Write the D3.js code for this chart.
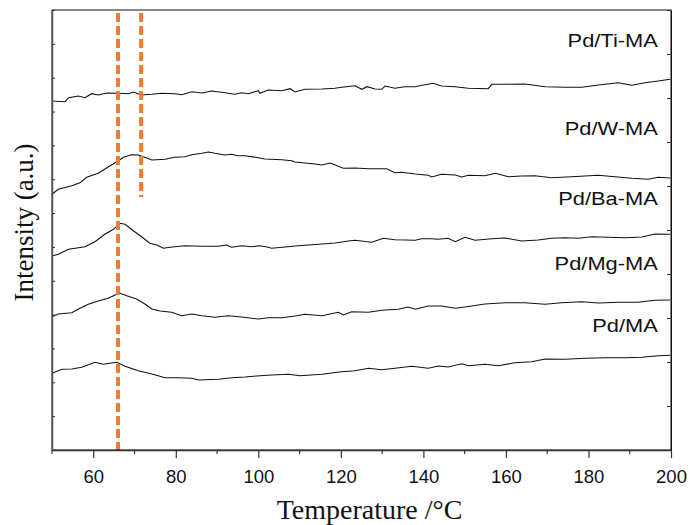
<!DOCTYPE html>
<html>
<head>
<meta charset="utf-8">
<script src="https://cdn.jsdelivr.net/npm/d3@7/dist/d3.min.js"></script>
<style>
body{margin:0;background:#fff;}
svg{display:block;}
</style>
</head>
<body>
<svg width="690" height="525"></svg>
<script>
// temperature (°C), intensity (a.u.)
var tiMA = [[50,349],[53.2,348.3],[54.0,352.3],[56.4,354],[58.0,352.3],[59.6,356.3],[61.2,355],[63.3,357],[66.1,356.7],[68.5,356.3],[69.7,358],[71.7,355],[74.2,355.7],[76.6,356.7],[79.8,356.3],[81.4,355.3],[83.9,358.3],[86.3,357],[88.7,359],[91.1,357.7],[94.3,355.7],[96.0,357.3],[97.6,356.3],[100.0,359.3],[100.4,356.7],[102.4,360],[105.7,359.3],[107.7,361.3],[108.9,358],[111.3,360.7],[115.4,361],[118.6,361.7],[120.2,362.7],[123.4,364.3],[125.1,360.7],[126.3,363.3],[128.3,361],[129.9,360.7],[130.7,364],[133.1,361.7],[135.5,363.3],[138.0,363.3],[139.6,364.7],[142.4,366.7],[144.4,364],[147.7,363.3],[150.9,361.7],[155.7,361.3],[156.6,365.7],[159.8,365.7],[164.6,366],[169.5,363.3],[174.3,362.7],[178.4,362.7],[182.4,365],[187.2,367.3],[190.5,364.7],[193.7,367.3],[196.9,369],[199.8,370.7]];
var wMA = [[50,255.7],[51.5,260.7],[54.8,264.3],[56.8,267.3],[58.4,272.7],[61.2,276.7],[63.3,282.3],[65.7,288.3],[67.3,292.7],[69.3,295.3],[70.9,295],[72.5,292.7],[74.2,290],[77.4,290.7],[79.8,292.7],[82.2,293.3],[83.9,295.3],[86.3,296.7],[87.9,298],[89.5,296.7],[91.9,295],[93.5,295.7],[95.1,294.3],[96.8,294.3],[100.0,292.3],[101.6,291],[105.7,290.3],[108.1,289.3],[108.9,288],[113.7,286],[115.4,285],[117.4,287],[120.6,281.7],[123.4,282],[126.7,281.3],[131.1,281.3],[133.1,277.3],[134.7,277.7],[138.0,276],[141.2,274.7],[142.0,273],[144.4,275.7],[147.7,275],[149.3,273],[150.9,274.7],[154.9,274.3],[157.4,276.7],[160.6,273.3],[163.8,274],[167.0,274.3],[171.1,272.3],[175.9,273.3],[182.4,274.7],[186.4,273.3],[190.5,271.7],[194.5,270.7],[196.9,272.7],[199.8,272]];
var baMA = [[50,194],[51.5,195.7],[54.0,200.7],[55.6,201.7],[58.0,203.3],[60.4,208.3],[62.8,215.7],[64.9,220.7],[66.5,226.7],[67.7,225.7],[69.7,219.3],[71.7,213.3],[73.7,206.7],[75.4,205],[77.0,201.7],[78.6,202.7],[82.2,204.3],[86.3,203.7],[90.3,203.7],[92.3,205],[93.5,202.7],[96.0,204.3],[98.4,203.3],[100.4,204.3],[102.4,202.7],[103.2,201.7],[106.5,203],[109.7,204.3],[115.4,206],[118.6,207],[121.8,209],[123.4,209.7],[127.5,207.7],[130.3,211.7],[133.1,210.3],[138.0,209.7],[139.6,211.3],[142.0,211.3],[143.6,210.7],[146.0,211.7],[147.7,208.3],[150.1,212.7],[152.5,209.7],[156.6,211.3],[159.8,212],[163.8,209],[167.8,210],[171.1,211.7],[174.3,212.3],[177.5,211.7],[180.8,213.3],[184.8,212.7],[188.9,212.3],[192.9,213],[196.1,216],[199.8,215.7]];
var mgMA = [[50,133.3],[51.5,136],[54.8,137.3],[56.4,141],[58.8,145.7],[61.2,149],[63.6,151.7],[65.3,155],[66.5,156.7],[68.1,154.3],[70.5,151],[72.5,146],[74.2,141],[76.2,139],[79.0,137.7],[81.4,134.3],[83.9,136],[86.3,134.3],[89.5,132.7],[92.7,134.3],[96.0,133],[100.0,131],[102.4,132.3],[105.7,132.3],[108.9,134],[111.3,135.7],[115.4,134.3],[119.4,137.7],[120.6,135],[122.6,138.3],[126.7,137.7],[129.9,139.7],[133.9,140.7],[136.3,143],[138.0,140.7],[141.2,144],[144.4,144],[147.7,141.7],[150.1,143],[154.9,146],[159.8,147.3],[164.6,147.3],[169.5,145.7],[173.5,147.3],[178.4,148.3],[182.4,147],[187.2,147.7],[192.1,147.7],[196.1,149.7],[199.8,150]];
var pdMA = [[50,76.7],[52.4,80.7],[54.8,81],[57.2,82.7],[60.4,87.7],[62.4,85.7],[65.7,87.7],[67.7,83.7],[70.9,79.3],[74.2,76],[77.4,72.3],[80.6,72.3],[83.9,71.7],[85.5,70],[90.3,70.7],[93.5,72.3],[96.8,73],[100.4,74.3],[103.2,75],[107.3,75.7],[110.1,74.3],[115.4,75.7],[120.2,78.3],[123.4,79.3],[126.7,81.7],[129.9,80.3],[133.1,81.7],[137.2,83.7],[141.2,81.7],[143.6,84],[146.0,83],[149.3,86.3],[150.9,84.3],[154.9,85.7],[158.2,84.3],[162.2,87.3],[166.2,88.3],[169.5,91],[174.3,90.7],[179.2,91.7],[184.0,92.3],[188.9,92.3],[192.9,92.7],[196.9,94.3],[199.8,94.7]];

var seriesNames = ["Pd/Ti-MA","Pd/W-MA","Pd/Ba-MA","Pd/Mg-MA","Pd/MA"];
var seriesData = [tiMA, wMA, baMA, mgMA, pdMA];

// dashed reference lines: temperature, intensity span
var refLines = [[66, 0, 440],[71.6, 253, 440]];

var xMajor = [60,80,100,120,140,160,180,200];
var xMinor = [50,70,90,110,130,150,170,190];

window.onload=function(){
	var margin = {top: 10, right: 19, bottom: 75, left: 52};
	var width = 690 - margin.left - margin.right;
	var height = 525 - margin.top - margin.bottom;

	var x = d3.scaleLinear().domain([50,200]).range([0,width]);
	var y = d3.scaleLinear().domain([0,440]).range([height,0]);

	var svg = d3.select("svg");
	var g = svg.append("g").attr("transform","translate("+margin.left+","+margin.top+")");

	//curves
	var line = d3.line()
		.x(function(d){return x(d[0]);})
		.y(function(d){return y(d[1]);});
	g.selectAll("path.curve")
		.data(seriesData)
		.enter().append("path")
		.attr("class","curve")
		.attr("d",line)
		.attr("fill","none")
		.attr("stroke","#111")
		.attr("stroke-width",1.1);

	//dashed lines
	g.selectAll("line.ref")
		.data(refLines)
		.enter().append("line")
		.attr("x1",function(d){return x(d[0]);})
		.attr("x2",function(d){return x(d[0]);})
		.attr("y1",function(d){return y(d[2])+3;})
		.attr("y2",function(d){return y(d[1]);})
		.attr("stroke","#ee7d31")
		.attr("stroke-width",4)
		.attr("stroke-dasharray","9,4");

	//labels (font looks stretched in the original, so scale x a bit)
	var labelY = [403,315,245,180,118];
	g.selectAll("text.lab")
		.data(seriesNames)
		.enter().append("text")
		.attr("class","lab")
		.attr("transform",function(d,i){return "translate("+x(196.8)+","+y(labelY[i])+") scale(1.15,1)";})
		.attr("text-anchor","end")
		.style("font-family","'Liberation Sans', Arial, sans-serif")
		.style("font-size","19px")
		.attr("fill","#111")
		.text(function(d){return d;});

	//frame
	g.append("rect")
		.attr("width",width).attr("height",height)
		.attr("fill","none").attr("stroke","#111").attr("stroke-width",1);

	//bottom axis
	var xAxis = g.append("g")
		.attr("transform","translate(0,"+height+")")
		.call(d3.axisBottom(x).tickValues(xMajor).tickSize(8).tickSizeOuter(0));
	xAxis.select(".domain").attr("stroke","#333").attr("stroke-width",1.5);
	xAxis.selectAll(".tick line").attr("stroke","#333").attr("stroke-width",1.2);
	xAxis.selectAll("text")
		.attr("dy","0")
		.attr("y",33)
		.style("font-family","'Liberation Sans', Arial, sans-serif")
		.style("font-size","18.5px")
		.attr("fill","#111");
	g.append("g")
		.attr("transform","translate(0,"+height+")")
		.selectAll("line")
		.data(xMinor)
		.enter().append("line")
		.attr("x1",function(d){return x(d);})
		.attr("x2",function(d){return x(d);})
		.attr("y1",0).attr("y2",4)
		.attr("stroke","#333").attr("stroke-width",1.2);

	//left axis, ticks inside
	var yAxis = g.append("g")
		.call(d3.axisLeft(y).tickValues(d3.range(0,441,440/13)).tickSize(-3).tickSizeOuter(0).tickFormat(""));
	yAxis.select(".domain").attr("stroke","#555").attr("stroke-width",1.5);
	yAxis.selectAll(".tick line").attr("stroke","#333");

	//right axis, ticks inside
	var yAxisR = g.append("g")
		.attr("transform","translate("+width+",0)")
		.call(d3.axisRight(y).tickValues(d3.range(0,441,44)).tickSize(-4).tickSizeOuter(0).tickFormat(""));
	yAxisR.select(".domain").attr("stroke","#111");
	yAxisR.selectAll(".tick line").attr("stroke","#333");

	//titles
	svg.append("text")
		.attr("x",margin.left+width/2+8)
		.attr("y",519)
		.attr("text-anchor","middle")
		.style("font-family","'Liberation Serif', 'Times New Roman', serif")
		.style("font-size","28px")
		.attr("fill","#111")
		.text("Temperature /\u00b0C");
	svg.append("text")
		.attr("transform","translate(33,222.5) rotate(-90)")
		.attr("text-anchor","middle")
		.style("font-family","'Liberation Serif', 'Times New Roman', serif")
		.style("font-size","27px")
		.attr("fill","#111")
		.text("Intensity (a.u.)");
}
</script>
</body>
</html>
